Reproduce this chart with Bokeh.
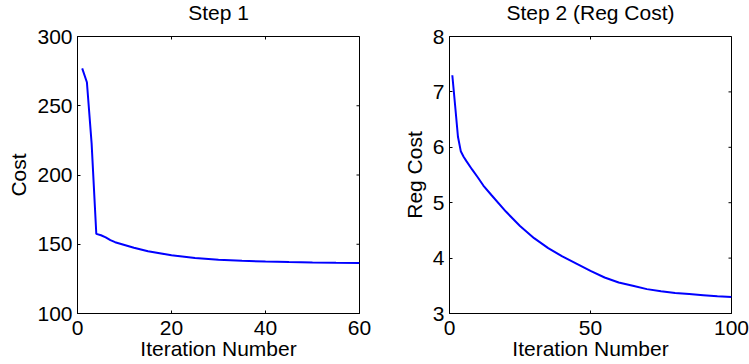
import math
from bokeh.plotting import figure
from bokeh.layouts import row
from bokeh.models import Range1d, FixedTicker
from bokeh.embed import file_html
from bokeh.resources import INLINE

# ---- data ----
step1_iter = [1, 2, 3, 4, 5, 6, 7, 8, 10, 12, 15, 20, 25, 30, 35, 40, 45, 50, 55, 60]
step1_cost = [277, 267, 223, 157.5, 156.5, 155, 153, 151.5, 149.5, 147.5, 145,
              142, 140, 138.8, 138, 137.5, 137.1, 136.8, 136.6, 136.5]

step2_iter = [1, 2, 3, 4, 5, 6, 8, 10, 12, 15, 20, 25, 30, 35, 40, 45, 50,
              55, 60, 65, 70, 75, 80, 85, 90, 95, 100]
step2_cost = [7.30, 6.75, 6.19, 5.93, 5.83, 5.75, 5.60, 5.46, 5.31, 5.13, 4.84,
              4.58, 4.36, 4.18, 4.03, 3.90, 3.77, 3.65, 3.56, 3.50, 3.44, 3.40,
              3.37, 3.35, 3.33, 3.31, 3.30]

step1_xticks = [0, 20, 40, 60]
step1_yticks = [100, 150, 200, 250, 300]
step2_xticks = [0, 50, 100]
step2_yticks = [3, 4, 5, 6, 7, 8]

FONT = "Liberation Sans"
FS = "21px"


def style_axis(ax):
    ax.axis_line_color = "black"
    ax.axis_line_width = 1
    ax.major_tick_line_color = "black"
    ax.major_tick_in = 3
    ax.major_tick_out = 0
    ax.minor_tick_line_color = None
    ax.major_label_text_font = FONT
    ax.major_label_text_color = "black"
    ax.major_label_text_font_size = FS
    ax.axis_label_text_font = FONT
    ax.axis_label_text_font_size = FS
    ax.axis_label_text_font_style = "normal"
    ax.axis_label_text_color = "black"


def make_fig(xs, ys, xr, yr, xticks, yticks, title, ylabel, bl, br):
    p = figure(frame_width=282, frame_height=277,
               min_border_left=bl, min_border_right=br,
               min_border_top=36, min_border_bottom=49,
               x_range=Range1d(*xr), y_range=Range1d(*yr),
               output_backend="svg", toolbar_location=None,
               title=title)
    p.line(xs, ys, line_color="#0000ff", line_width=2)
    p.xgrid.visible = False
    p.ygrid.visible = False
    p.outline_line_color = "black"
    p.outline_line_width = 1
    p.outline_line_alpha = 1
    p.background_fill_color = "white"
    p.border_fill_color = "white"

    p.xaxis.ticker = FixedTicker(ticks=xticks)
    p.yaxis.ticker = FixedTicker(ticks=yticks)
    p.xaxis.axis_label = "Iteration Number"
    p.yaxis.axis_label = ylabel
    for ax in p.xaxis + p.yaxis:
        style_axis(ax)
    p.xaxis.major_label_standoff = 7
    p.xaxis.axis_label_standoff = -1
    p.yaxis.major_label_standoff = 5
    p.yaxis.axis_label_standoff = 4

    # mirrored inward ticks on the top and right edges (clipped to the frame)
    p.scatter(xticks, [yr[1]] * len(xticks), marker="dash", size=6,
              angle=math.pi / 2, line_color="black", line_width=1)
    p.scatter([xr[1]] * len(yticks), yticks, marker="dash", size=6,
              line_color="black", line_width=1)

    p.title.text_font = FONT
    p.title.text_font_size = FS
    p.title.text_font_style = "normal"
    p.title.text_color = "black"
    p.title.align = "center"
    p.title.standoff = 25
    return p


p1 = make_fig(step1_iter, step1_cost, (0, 60), (100, 300),
              step1_xticks, step1_yticks, "Step 1", "Cost", 77, 22)
p2 = make_fig(step2_iter, step2_cost, (0, 100), (3, 8),
              step2_xticks, step2_yticks, "Step 2 (Reg Cost)", "Reg Cost", 68, 18)

layout = row(p1, p2, styles={"margin-top": "-14px"})

with open("out.html", "w") as f:
    f.write(file_html(layout, INLINE))
